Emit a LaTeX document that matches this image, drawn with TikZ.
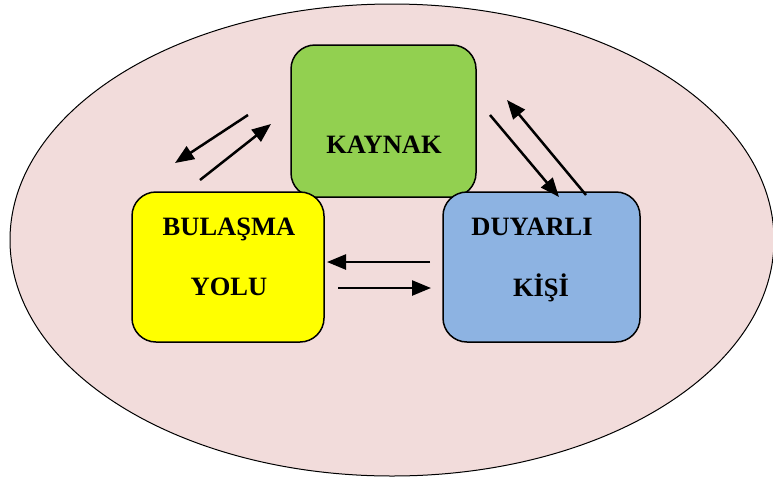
\documentclass[tikz,border=0pt]{standalone}
\usepackage{fontspec}
\setmainfont{Liberation Serif}
\usetikzlibrary{arrows.meta}
\definecolor{bgpink}{HTML}{F2DCDB}
\definecolor{kgreen}{HTML}{92D050}
\definecolor{kblue}{HTML}{8DB3E2}
\definecolor{kyellow}{HTML}{FFFF00}
\tikzset{
  box/.style={draw=black, line width=1.5pt, rounded corners=24pt, inner sep=0pt},
  lbl/.style={anchor=base, font=\fontsize{26.5}{31}\selectfont\bfseries, inner sep=0pt},
  arr/.style={line width=2.5pt, -{Triangle[length=19pt,width=15pt]}}
}
\begin{document}
\begin{tikzpicture}[x=1pt,y=-1pt]
\useasboundingbox (0,0) rectangle (773,480);
\fill[bgpink] (392,240) ellipse [x radius=382, y radius=236];
\draw[line width=1pt] (392,240) ellipse [x radius=382, y radius=236];
% boxes
\node[box, fill=kgreen, minimum width=185pt, minimum height=152pt] (kaynak) at (383.5,121) {};
\node[box, fill=kyellow, minimum width=192pt, minimum height=150pt] (yol) at (228,267) {};
\node[box, fill=kblue, minimum width=197pt, minimum height=150pt] (kisi) at (541.5,267) {};
% texts
\node[lbl] (t1) at (384,153) {KAYNAK};
\node[lbl] (t2) at (229,235) {BULAŞMA};
\node[lbl] (t3) at (229,295) {YOLU};
\node[lbl] (t4) at (532,235) {DUYARLI};
\node[lbl] (t5) at (541,296) {KİŞİ};
% arrow endpoints
\coordinate (a1s) at (248,115); \coordinate (a1e) at (175,163);
\coordinate (a2s) at (200,180); \coordinate (a2e) at (271,124);
\coordinate (a3s) at (490,115); \coordinate (a3e) at (559,197);
\coordinate (a4s) at (586,195); \coordinate (a4e) at (507,100);
\coordinate (a5s) at (430,262); \coordinate (a5e) at (327,262);
\coordinate (a6s) at (338,288); \coordinate (a6e) at (431,288);
\draw[arr] (a1s) -- (a1e);
\draw[arr] (a2s) -- (a2e);
\draw[arr] (a3s) -- (a3e);
\draw[arr] (a4s) -- (a4e);
\draw[arr] (a5s) -- (a5e);
\draw[arr] (a6s) -- (a6e);
\end{tikzpicture}
\end{document}
